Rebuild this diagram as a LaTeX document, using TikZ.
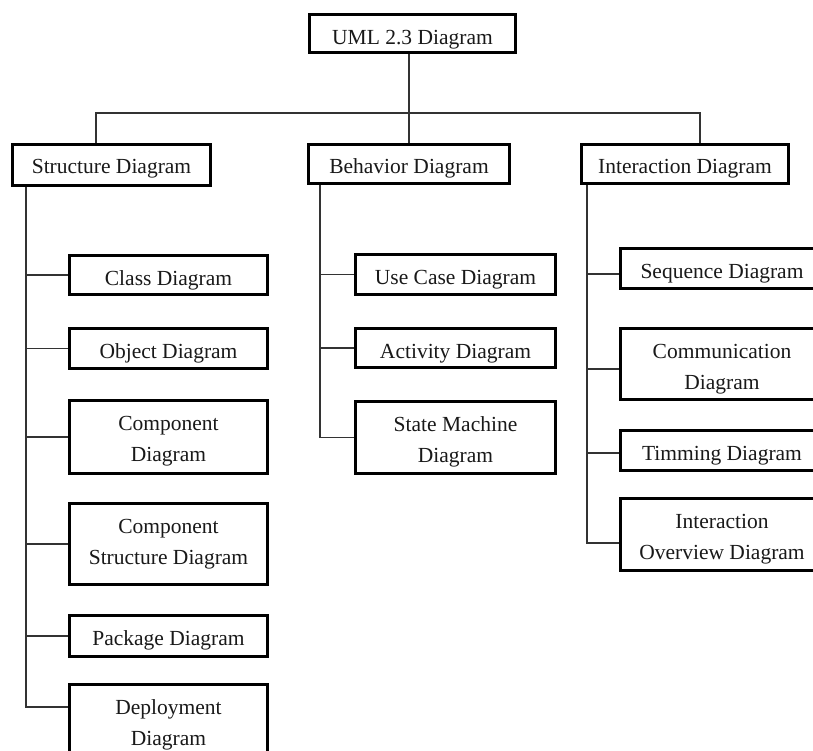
\documentclass[tikz,border=0pt]{standalone}
\usepackage{fontspec}
\setmainfont{Liberation Serif}
% box text: first baseline 29.6pt below the inner top edge, box filled to height #1
\newcommand\bt[2]{\raisebox{0pt}[29.6pt][\dimexpr#1pt-32.4pt\relax]{\begin{tabular}[t]{@{}c@{}}#2\end{tabular}}}
\begin{document}
\begin{tikzpicture}[x=1pt,y=-1pt,
  box/.style={draw=black,line width=2.8pt,fill=white,inner sep=0pt,anchor=north west,
    font=\fontsize{21.5}{31}\selectfont,text=black!90},
  sz/.style 2 args={minimum width={#1pt-2.8pt},minimum height={#2pt-2.8pt}},
  conn/.style={draw=black!80,line width=1.3pt}]
\useasboundingbox (0,0) rectangle (813,751);
\clip (0,0) rectangle (813,751);
\fill[white] (0,0) rectangle (813,751);

% root
\node[box,sz={209}{41}] (uml) at (308,13) {\bt{40}{UML 2.3 Diagram}};

% three main categories
\node[box,sz={201}{44}] (struct) at (11,143) {\bt{44}{Structure Diagram}};
\node[box,sz={204}{42}] (beh) at (307,143) {\bt{42}{Behavior Diagram}};
\node[box,sz={210}{42}] (inter) at (580,143) {\bt{42}{Interaction Diagram}};

% structure diagrams
\node[box,sz={201}{42}] (class) at (68,254) {\bt{42}{Class Diagram}};
\node[box,sz={201}{43}] (object) at (68,327) {\bt{43}{Object Diagram}};
\node[box,sz={201}{76}] (comp) at (68,399) {\bt{76}{Component\\Diagram}};
\node[box,sz={201}{84}] (cstruct) at (68,502) {\bt{84}{Component\\Structure Diagram}};
\node[box,sz={201}{44}] (pack) at (68,614) {\bt{44}{Package Diagram}};
\node[box,sz={201}{79}] (deploy) at (68,683) {\bt{79}{Deployment\\Diagram}};

% behavior diagrams
\node[box,sz={203}{43}] (usecase) at (354,253) {\bt{43}{Use Case Diagram}};
\node[box,sz={203}{42}] (activity) at (354,327) {\bt{42}{Activity Diagram}};
\node[box,sz={203}{75}] (state) at (354,400) {\bt{75}{State Machine\\Diagram}};

% interaction diagrams
\node[box,sz={206}{43}] (seq) at (619,247) {\bt{43}{Sequence Diagram}};
\node[box,sz={206}{74}] (commu) at (619,327) {\bt{74}{Communication\\Diagram}};
\node[box,sz={206}{43}] (timing) at (619,429) {\bt{43}{Timming Diagram}};
\node[box,sz={206}{75}] (overview) at (619,497) {\bt{75}{Interaction\\Overview Diagram}};

% root to categories
\draw[conn] ([xshift=-3.5pt]uml.south) -- ++(0,59) coordinate (hub);
\draw[conn] ([xshift=85pt]struct.north west) |- (hub) -| ([xshift=120pt]inter.north west);
\draw[conn] (hub) -- (beh.north);

% structure branch
\coordinate (str) at ([xshift=15pt]struct.south west);
\draw[conn] (str) |- ([yshift=-24pt]deploy.north west);
\foreach \n in {class,object,comp,cstruct,pack}
  \draw[conn] (\n.west -| str) -- (\n.west);

% behavior branch
\coordinate (btr) at ([xshift=13pt]beh.south west);
\draw[conn] (btr) |- (state.west);
\foreach \n in {usecase,activity}
  \draw[conn] (\n.west -| btr) -- (\n.west);

% interaction branch
\coordinate (itr) at ([xshift=7pt]inter.south west);
\draw[conn] (itr) |- ([yshift=-46pt]overview.north west);
\draw[conn] ([yshift=-27pt]seq.north west -| itr) -- ([yshift=-27pt]seq.north west);
\draw[conn] ([yshift=-42pt]commu.north west -| itr) -- ([yshift=-42pt]commu.north west);
\draw[conn] ([yshift=-24pt]timing.north west -| itr) -- ([yshift=-24pt]timing.north west);
\end{tikzpicture}
\end{document}
